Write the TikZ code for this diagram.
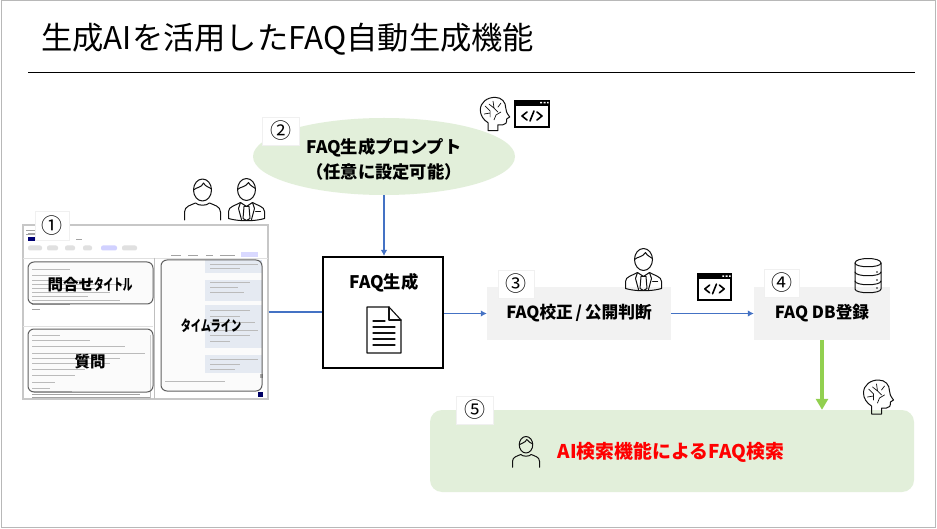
\documentclass[tikz,border=0pt]{standalone}
\usepackage{fontspec}
\usepackage{graphicx}
\setmainfont{Noto Sans CJK JP}
\usetikzlibrary{arrows.meta,shapes.geometric}
\definecolor{flowblue}{HTML}{4472C4}
\definecolor{palegreen}{HTML}{E2EFDA}
\definecolor{palegray}{HTML}{F2F2F2}
\definecolor{limegreen}{HTML}{92D050}
\definecolor{bubble}{HTML}{DFE6F2}
\definecolor{iconink}{HTML}{111111}
\newcommand{\px}[1]{\fontsize{#1pt}{#1pt}\selectfont}
\tikzset{
  x=1pt,y=-1pt,
  numtag/.style={fill=white,draw=black!6,line width=.6pt,inner sep=0pt,minimum width=35pt,minimum height=28pt,font=\px{21}},
  txtlabel/.style={inner sep=0pt,font=\px{17.3}\bfseries,align=center},
  flow/.style={draw=flowblue,line width=1.9pt,-{Latex[length=6pt,width=6.5pt]}},
  flowplain/.style={draw=flowblue,line width=1.9pt},
  grayproc/.style={fill=palegray,inner sep=0pt,font=\px{16.7}\bfseries},
  icon/.style={draw=iconink,line width=1pt,line join=round,line cap=round},
  fieldbox/.style={draw=black!62,line width=1pt,rounded corners=6pt,fill=black!4,fill opacity=.3},
  faint/.style={draw=black!36,line width=.6pt},
  personicon/.pic={
    \draw[icon] (0,-9) ellipse (9 and 11);
    \draw[icon] (-9,-9) .. controls (-6,-12) and (-1,-11) .. (1,-16) .. controls (3,-12) and (7,-12) .. (9,-10);
    \draw[icon] (-18,21) -- (-18,13) .. controls (-18,7) and (-11,6) .. (-7,4) .. controls (-4,7) and (4,7) .. (7,4) .. controls (11,6) and (18,7) .. (18,13) -- (18,21);
  },
  suiticon/.pic={
    \draw[icon] (0,-10) ellipse (9 and 11);
    \draw[icon] (-9,-10) .. controls (-6,-13) and (-1,-12) .. (2,-17) .. controls (4,-13) and (7,-13) .. (9,-11);
    \draw[icon] (-18,19) -- (-18,12) .. controls (-18,7) and (-11,6) .. (-6,3) -- (0,7) -- (6,3) .. controls (11,6) and (18,7) .. (18,12) -- (18,19) .. controls (8,22) and (-8,22) .. (-18,19);
    \draw[icon] (-2.5,7) -- (-3.5,19) -- (0,21) -- (3.5,19) -- (2.5,7) -- cycle;
    \draw[icon] (-6,3) -- (-8,9) -- (-5,20);
    \draw[icon] (6,3) -- (8,9) -- (5,20);
    \draw[icon] (9,12) -- (14,12);
  },
  brainicon/.pic={
    \draw[icon] (-7,17) -- (-7,9) .. controls (-12,6) and (-15,1) .. (-15,-4) .. controls (-15,-12) and (-8,-17) .. (0,-17) .. controls (7,-17) and (11,-12) .. (11,-6) .. controls (11,-3) and (12,-1) .. (15,3) -- (12,5) .. controls (12,9) and (11,11) .. (8,11) -- (3,11) -- (3,17) -- cycle;
    \draw[icon,line width=.7pt] (-10,-8) -- (-5,-3) -- (-5,3) (-11,0) -- (-5,-1) (-2,-13) -- (-1,-6) -- (3,-2) (-1,-6) -- (-6,-10) (6,-11) -- (3,-7) (-1,6) -- (1,1) -- (6,-2);
  },
  codeicon/.pic={
    \fill[black] (-18,-14) rectangle (18,14);
    \fill[white] (-16,-8) rectangle (16,12);
    \fill[white] (8,-12) rectangle (10,-10.5) (11.5,-12) rectangle (13.5,-10.5) (15,-12) rectangle (16.5,-10.5);
    \draw[black,line width=1.6pt,line cap=round,line join=round] (-5,-2) -- (-10,2) -- (-5,6) (5,-2) -- (10,2) -- (5,6) (2,-3) -- (-2,7);
  },
  dbicon/.pic={
    \draw[icon] (-13,-13) .. controls (-13,-19) and (13,-19) .. (13,-13) .. controls (13,-8) and (-13,-8) .. (-13,-13) -- cycle;
    \draw[icon] (-13,-13) -- (-13,13) .. controls (-13,18) and (13,18) .. (13,13) -- (13,-13);
    \draw[icon] (-13,-4) .. controls (-13,1) and (13,1) .. (13,-4);
    \draw[icon] (-13,5) .. controls (-13,10) and (13,10) .. (13,5);
    \fill[iconink] (9,-4) circle (.8) (9,4) circle (.8) (9,12) circle (.8);
  },
  docicon/.pic={
    \draw[icon,line width=1.1pt] (-17,-23) -- (5,-23) -- (17,-10) -- (17,23) -- (-17,23) -- cycle;
    \draw[icon,line width=1.1pt] (5,-23) -- (5,-10) -- (17,-10);
    \draw[icon,line width=1.1pt] (-11,-9) -- (1,-9) (-11,-3) -- (11,-3) (-11,3) -- (11,3) (-11,9) -- (11,9) (-11,15) -- (11,15);
  }
}
\begin{document}
\begin{tikzpicture}
\useasboundingbox (0,0) rectangle (937,529);
% slide frame
\fill[white] (0,0) rectangle (937,529);
\draw[draw=black!28,line width=1.2pt] (1.5,.5) rectangle (935.5,527.5);
% title
\node[anchor=west,inner sep=0pt,font=\px{31.3}] (title) at (41,39) {生成AIを活用したFAQ自動生成機能};
\coordinate (ruleL) at (28,72);
\coordinate (ruleR) at (915,72);
\draw[black,line width=.9pt] (ruleL) -- (ruleR);

% screenshot
\node[draw=black!22,fill=white,line width=1.3pt,inner sep=0pt,minimum width=245pt,minimum height=174pt] (shot) at (145.5,312) {};
\begin{scope}
  \clip (23,226) rectangle (268,399);
  \draw[faint] (26,230) -- (42,230) (26,234) -- (48,234) (28,233) -- (65,233);
  \fill[blue!45!black] (28,237) rectangle (45,241);
  \draw[faint] (50,239) -- (56,239) (61,239) -- (68,239) (76,239) -- (82,239);
  \foreach \xa/\xb/\colr in {28/42/black!12,47/58/black!12,65/75/black!12,83/92/black!12,101/117/blue!18,122/137/black!12}
    \fill[\colr,rounded corners=2pt] (\xa,245.5) rectangle (\xb,250.5);
  \draw[faint] (171,255) -- (181,255) (188,255) -- (198,255) (206,255) -- (213,255) (220,255) -- (235,255);
  \fill[blue!15] (241,252) rectangle (258,257);
  \draw[draw=black!12,line width=.6pt] (23,258) -- (268,258) (23,326) -- (153,326);
  \draw[draw=black!25,line width=1pt] (154,258) -- (154,399) (150,335) -- (150,399);
  \foreach \ya/\yb in {260/273,280/301,305/348,355/373}
    \fill[bubble] (205,\ya) rectangle (262,\yb);
  \foreach \yy/\xe in {269/70,275/60,280/85,284/125,288/95,292/110,296/88,300/120,304/70,309/40}
    \draw[faint] (32,\yy) -- (\xe,\yy);
  \foreach \yy/\xe in {335/60,340/90,346/125,353/145,358/120,363/110,369/85,375/75,382/55,388/50,391/72,394/140,397/150}
    \draw[faint] (32,\yy) -- (\xe,\yy);
  \foreach \yy/\xa/\xe in {264/210/258,268/210/240,282/210/250,287/210/238,292/210/244,310/210/250,316/210/240,322/210/255,330/210/258,335/210/250,341/210/230,359/210/258,364/210/240,369/210/235}
    \draw[faint] (\xa,\yy) -- (\xe,\yy);
  \draw[faint] (165,381) -- (225,381);
  \fill[blue!40!black] (258,392) rectangle (263,397);
  \fill[black!45] (260,374) rectangle (263,378);
\end{scope}
\node[fieldbox,inner sep=0pt,minimum width=125pt,minimum height=42pt,text opacity=1] (titlebox) at (90.5,283) {};
\node[fieldbox,inner sep=0pt,minimum width=125pt,minimum height=63pt,text opacity=1] (askbox) at (90.5,360.5) {};
\node[fieldbox,inner sep=0pt,minimum width=101pt,minimum height=131pt,text opacity=1] (linebox) at (211.5,325.5) {};
\node[inner sep=0pt,font=\px{15.5}\bfseries] (titletext) at (90,285) {問合せ\scalebox{.62}[1]{タイトル}};
\node[inner sep=0pt,font=\px{15.5}\bfseries] (asktext) at (90,362) {質問};
\node[inner sep=0pt,font=\px{15}\bfseries] (linetext) at (211,326) {\scalebox{.68}[1]{タイムライン}};

% main flow shapes
\node[ellipse,fill=palegreen,inner sep=0pt,minimum width=262pt,minimum height=77pt] (prompt) at (384,156.5) {};
\node[txtlabel] (prompttext) at (384,159.5) {FAQ生成プロンプト\\[6pt]（任意に設定可能）};
\node[draw=black,line width=2pt,fill=white,inner sep=0pt,minimum width=120pt,minimum height=111pt] (gen) at (383,312.5) {};
\node[txtlabel] (gentext) at (384,283) {FAQ生成};
\node[grayproc,minimum width=184pt,minimum height=53pt] (check) at (579,313.5) {\raisebox{-1.5pt}{FAQ校正\,/\,公開判断}};
\node[grayproc,minimum width=136pt,minimum height=53pt] (dbreg) at (822,313.5) {\raisebox{-1.5pt}{FAQ DB登録}};
\node[fill=palegreen,rounded corners=12pt,inner sep=0pt,minimum width=484pt,minimum height=82pt] (search) at (672,451) {};
\node[inner sep=0pt,font=\px{18.9}\bfseries,text=red] (searchtext) at (671,452) {AI検索機能によるFAQ検索};

% connectors
\draw[flowplain] (shot.east) -- (shot.east -| gen.west);
\draw[flow] (prompt.south) -- (prompt.south |- gen.north);
\draw[flow] (gen.east |- check.west) -- (check.west);
\draw[flow] (check.east) -- (dbreg.west);
\draw[draw=limegreen,line width=4pt,-{Triangle[length=11pt,width=12pt]}] (dbreg.south) -- (dbreg.south |- search.north);

% number tags
\node[numtag,minimum width=34pt,minimum height=29pt] (n1) at (52,225.5) {①};
\node[numtag,minimum width=37pt,minimum height=28pt] (n2) at (280.5,131) {②};
\node[numtag,minimum width=36pt,minimum height=28pt] (n3) at (516,284) {③};
\node[numtag] (n4) at (781.5,283) {④};
\node[numtag,minimum width=37pt] (n5) at (474.5,410) {⑤};

% icons
\pic at (202.5,199) {personicon};
\pic at (246.5,199.5) {suiticon};
\pic[scale=.98] at (495,114) {brainicon};
\pic at (532,114) {codeicon};
\pic at (643.5,269.5) {suiticon};
\pic[scale=.97] at (714.5,287) {codeicon};
\pic at (868,276) {dbicon};
\pic at (878.5,397) {brainicon};
\pic[scale=.75] at (526,451.5) {personicon};
\pic at (384,330) {docicon};
\end{tikzpicture}
\end{document}
